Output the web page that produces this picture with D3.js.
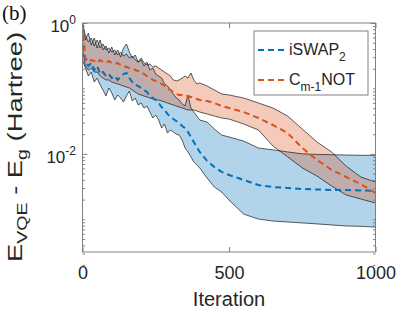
<!DOCTYPE html>
<html>
<head>
<meta charset="utf-8" />
<title>VQE error vs iteration</title>
<script src="https://cdn.jsdelivr.net/npm/d3@7"></script>
<style>
    body { margin:0; background:#fff; }
    text { font-family:"Liberation Sans", Arial, sans-serif; fill:#262626; }
    .tick line { stroke:#808080; }
</style>
</head>
<body>
<svg id="CHART" width="415" height="312"></svg>
<script>
    /*Data*/
    var iterations = [0,10,20,30,40,50,60,70,80,90,100,110,120,130,140,150,160,170,180,190,200,
        210,220,230,240,250,260,270,280,290,300,310,320,330,340,350,360,370,380,390,400,
        425,450,475,500,550,600,650,700,750,800,850,900,950,1000];

    // iSWAP_2 : mean, lower and upper envelope
    var iswapMean = [0.461,0.253,0.22,0.245,0.191,0.22,0.166,0.178,0.155,0.166,0.144,0.155,0.135,0.15,0.166,0.172,0.144,0.125,0.113,0.109,0.1015,
        0.0946,0.0882,0.0766,0.0714,0.0666,0.0599,0.052,0.0468,0.0407,0.0366,0.0341,0.0318,0.0296,0.0266,0.0248,0.0216,0.0181,0.0152,0.0127,0.0107,
        0.0078,0.0063,0.0053,0.00475,0.00399,0.00334,0.00311,0.00301,0.0029,0.00286,0.0028,0.0028,0.00276,0.00271];
    var iswapLow = [0.272,0.205,0.155,0.178,0.125,0.144,0.113,0.0946,0.0766,0.1015,0.0852,0.0666,0.0794,0.0714,0.062,0.0766,0.0913,0.0643,0.0714,0.0558,0.0599,
        0.0502,0.0539,0.0436,0.0353,0.0393,0.0329,0.0248,0.0286,0.0208,0.0232,0.0216,0.0201,0.0194,0.0163,0.0123,0.0107,0.009,0.0075,0.0068,0.0061,
        0.00428,0.00311,0.00261,0.00197,0.0012,0.00101,0.00094,0.00091,0.00088,0.00085,0.00082,0.00079,0.00078,0.00076];
    var iswapHigh = [1.0,0.55,0.70,0.46,0.59,0.415,0.55,0.387,0.445,0.348,0.43,0.324,0.387,0.302,0.415,0.478,0.36,0.292,0.324,0.253,0.272,
        0.22,0.253,0.191,0.205,0.166,0.155,0.144,0.117,0.109,0.0946,0.0822,0.0714,0.0666,0.0578,0.0539,0.0794,0.0502,0.0436,0.0379,0.0329,
        0.0307,0.024,0.0194,0.0181,0.0157,0.0123,0.0115,0.0107,0.0100,0.0098,0.0097,0.0096,0.0095,0.0095];

    // C_{m-1}NOT : mean, lower and upper envelope
    var cnotMean = [0.93,0.292,0.253,0.272,0.263,0.245,0.272,0.253,0.245,0.263,0.245,0.236,0.245,0.228,0.22,0.213,0.205,0.205,0.191,0.185,0.178,
        0.166,0.155,0.144,0.135,0.13,0.125,0.117,0.109,0.1015,0.0946,0.0882,0.0822,0.0794,0.0794,0.0766,0.0766,0.074,0.0714,0.069,0.0666,
        0.0643,0.0599,0.0539,0.0502,0.0436,0.0353,0.0276,0.0208,0.0123,0.0081,0.0057,0.00443,0.00346,0.00252];
    var cnotLow = [0.387,0.22,0.191,0.205,0.178,0.178,0.155,0.144,0.135,0.135,0.125,0.121,0.117,0.113,0.109,0.105,0.1015,0.0946,0.0882,0.0822,0.0794,
        0.0766,0.074,0.0714,0.069,0.0666,0.0666,0.0643,0.062,0.0599,0.0578,0.0558,0.0539,0.052,0.0502,0.0485,0.0468,0.0468,0.0468,0.0452,0.0436,
        0.0407,0.0379,0.0353,0.0341,0.0286,0.0232,0.0132,0.009,0.0061,0.00459,0.00323,0.00235,0.00204,0.00177];
    var cnotHigh = [1.0,0.633,0.512,0.59,0.445,0.55,0.415,0.478,0.387,0.415,0.36,0.387,0.324,0.36,0.313,0.336,0.292,0.313,0.272,0.253,0.292,
        0.245,0.228,0.236,0.213,0.22,0.205,0.191,0.178,0.166,0.155,0.135,0.13,0.135,0.144,0.155,0.144,0.172,0.135,0.117,0.121,
        0.109,0.0946,0.0822,0.0794,0.0714,0.0599,0.0502,0.0379,0.024,0.0152,0.0107,0.0065,0.00443,0.00371];

    var xTicks = [0, 500, 1000];
    var yTicks = [1, 0.01];
    var yTickExp = ["0", "-2"];
    var yMinor = [2e-4,3e-4,4e-4,5e-4,6e-4,7e-4,8e-4,9e-4,1e-3,2e-3,3e-3,4e-3,5e-3,6e-3,7e-3,8e-3,9e-3,
        2e-2,3e-2,4e-2,5e-2,6e-2,7e-2,8e-2,9e-2,1e-1,2e-1,3e-1,4e-1,5e-1,6e-1,7e-1,8e-1,9e-1];

    var series = [
        { name: "iSWAP", sub: "2", after: "", color: "#0072BD", mean: iswapMean, low: iswapLow, high: iswapHigh },
        { name: "C", sub: "m-1", after: "NOT", color: "#D95319", mean: cnotMean, low: cnotLow, high: cnotHigh }
    ];

    /*-----------------------SCALES------------------------*/
    var L = 82.5, R = 375.5, T = 23, B = 252;
    var x = d3.scaleLinear().domain([0, 1000]).range([L, R]);
    var y = d3.scaleLog().domain([Math.pow(10, -3.5), 1]).range([B, T]);

    var svg = d3.select("#CHART");

    svg.append("defs").append("clipPath").attr("id", "plotclip")
        .append("rect").attr("x", L).attr("y", T).attr("width", R - L).attr("height", B - T);

    var plot = svg.append("g").attr("clip-path", "url(#plotclip)");

    var band = d3.area()
        .x(function (d, i) { return x(iterations[i]); })
        .y0(function (d) { return y(d[0]); })
        .y1(function (d) { return y(d[1]); });
    var edge = d3.line()
        .x(function (d, i) { return x(iterations[i]); })
        .y(function (d) { return y(d); });

    //shaded envelopes
    series.forEach(function (s) {
        var pairs = s.low.map(function (v, i) { return [v, s.high[i]]; });
        plot.append("path").attr("d", band(pairs))
            .attr("fill", s.color).attr("fill-opacity", 0.3).attr("stroke", "none");
    });
    //envelope edges
    series.forEach(function (s) {
        [s.low, s.high].forEach(function (arr) {
            plot.append("path").attr("d", edge(arr))
                .attr("fill", "none").attr("stroke", "#1a1a1a").attr("stroke-width", 0.7);
        });
    });
    //mean lines
    series.forEach(function (s) {
        plot.append("path").attr("d", edge(s.mean))
            .attr("fill", "none").attr("stroke", s.color)
            .attr("stroke-width", 2).attr("stroke-dasharray", "6,4");
    });

    /*-----------------------AXES------------------------*/
    function clean(g) { g.select(".domain").remove(); }

    svg.append("g").attr("transform", "translate(0," + B + ")")
        .call(d3.axisBottom(x).tickValues(xTicks).tickFormat(d3.format("d"))
            .tickSizeInner(-5).tickSizeOuter(0).tickPadding(14))
        .call(clean)
        .selectAll("text").attr("font-size", 18).attr("font-family", "Liberation Sans, Arial").attr("fill", "#262626");
    svg.append("g").attr("transform", "translate(0," + T + ")")
        .call(d3.axisTop(x).tickValues(xTicks).tickSizeInner(-5).tickSizeOuter(0).tickFormat(""))
        .call(clean);

    svg.append("g").attr("transform", "translate(" + L + ",0)")
        .call(d3.axisLeft(y).tickValues(yTicks).tickSizeInner(-5).tickSizeOuter(0).tickFormat(""))
        .call(clean);
    svg.append("g").attr("transform", "translate(" + L + ",0)")
        .call(d3.axisLeft(y).tickValues(yMinor).tickSizeInner(-2.5).tickSizeOuter(0).tickFormat(""))
        .call(clean);
    svg.append("g").attr("transform", "translate(" + R + ",0)")
        .call(d3.axisRight(y).tickValues(yTicks).tickSizeInner(-5).tickSizeOuter(0).tickFormat(""))
        .call(clean);
    svg.append("g").attr("transform", "translate(" + R + ",0)")
        .call(d3.axisRight(y).tickValues(yMinor).tickSizeInner(-2.5).tickSizeOuter(0).tickFormat(""))
        .call(clean);

    svg.append("rect").attr("x", L).attr("y", T).attr("width", R - L).attr("height", B - T)
        .attr("fill", "none").attr("stroke", "#808080").attr("stroke-width", 1);

    //log tick labels 10^k
    yTicks.forEach(function (v, i) {
        var t = svg.append("text").attr("x", 76).attr("y", y(v) + 9)
            .attr("text-anchor", "end").attr("font-size", 17);
        t.append("tspan").text("10");
        t.append("tspan").attr("dy", -8).attr("font-size", 12).text(yTickExp[i]);
    });

    //axis titles
    svg.append("text").attr("x", x(500)).attr("y", 306)
        .attr("text-anchor", "middle").attr("font-size", 20).text("Iteration");

    var yl = svg.append("text").attr("transform", "translate(22,147) rotate(-90)")
        .attr("text-anchor", "middle").attr("font-size", 21)
        .attr("textLength", 230).attr("lengthAdjust", "spacingAndGlyphs");
    yl.append("tspan").text("E");
    yl.append("tspan").attr("font-size", 15).attr("dy", 5).text("VQE");
    yl.append("tspan").attr("dy", -5).text(" - E");
    yl.append("tspan").attr("font-size", 15).attr("dy", 5).text("g");
    yl.append("tspan").attr("dy", -5).text(" (Hartree)");

    svg.append("text").attr("x", 2).attr("y", 20).attr("font-size", 21)
        .style("font-family", "Liberation Serif, Times New Roman, serif").style("fill", "#111").text("(b)");

    /*-----------------------LEGEND------------------------*/
    var lg = svg.append("g");
    lg.append("rect").attr("x", 254).attr("y", 31).attr("width", 114).attr("height", 64)
        .attr("fill", "#fff").attr("stroke", "#808080").attr("stroke-width", 1);
    series.forEach(function (s, i) {
        var ly = 50 + i * 30;
        lg.append("line").attr("x1", 258).attr("x2", 285).attr("y1", ly).attr("y2", ly)
            .attr("stroke", s.color).attr("stroke-width", 2).attr("stroke-dasharray", "6,4");
        var t = lg.append("text").attr("x", 289).attr("y", ly + 5).attr("font-size", 16);
        t.append("tspan").text(s.name);
        t.append("tspan").attr("font-size", 12).attr("dy", 6).text(s.sub);
        if (s.after) t.append("tspan").attr("dy", -6).text(s.after);
    });
</script>
</body>
</html>
